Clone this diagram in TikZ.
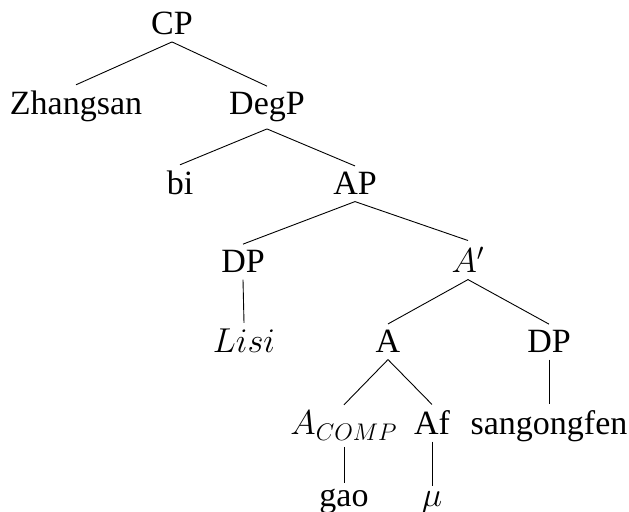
\documentclass[tikz,border=0pt]{standalone}
\usepackage{fontspec}
\setmainfont{Liberation Serif}
\begin{document}
\begin{tikzpicture}[x=0.5pt,y=-0.5pt,
  lbl/.style={anchor=base,font=\fontsize{17}{20}\selectfont,inner sep=0.31em},
  edge/.style={draw=black,line width=0.45pt}]
\useasboundingbox (0,0) rectangle (629,512);
\node[lbl] (cp)  at (172,35)  {CP};
\node[lbl] (zh)  at (76,115)  {Zhangsan};
\node[lbl] (deg) at (267,115) {DegP};
\node[lbl] (bi)  at (180,195) {bi};
\node[lbl] (ap)  at (355,195) {AP};
\node[lbl] (dp)  at (243,273) {DP};
\node[lbl] (abar) at (468,273) {$A'$};
\node[lbl] (lisi) at (244,353) {$Lisi$};
\node[lbl] (a)   at (388,353) {A};
\node[lbl] (dpb) at (549,353) {DP};
\node[lbl] (acomp) at (344,435) {$A_{COMP}$};
\node[lbl] (af)  at (432,435) {Af};
\node[lbl] (sang) at (549,435) {sangongfen};
\node[lbl] (gao) at (344,507) {gao};
\node[lbl] (mu)  at (432,507) {$\mu$};
\draw[edge] (cp.south) -- (zh.north);
\draw[edge] (cp.south) -- (deg.north);
\draw[edge] (deg.south) -- (bi.north);
\draw[edge] (deg.south) -- (ap.north);
\draw[edge] (ap.south) -- (dp.north);
\draw[edge] (ap.south) -- (abar.north);
\draw[edge] (dp.south) -- (lisi.north);
\draw[edge] (abar.south) -- (a.north);
\draw[edge] (abar.south) -- (dpb.north);
\draw[edge] (a.south) -- (acomp.north);
\draw[edge] (a.south) -- (af.north);
\draw[edge] (dpb.south) -- (sang.north);
\draw[edge] (acomp.south) -- (gao.north);
\draw[edge] (af.south) -- (mu.north);
\end{tikzpicture}
\end{document}
